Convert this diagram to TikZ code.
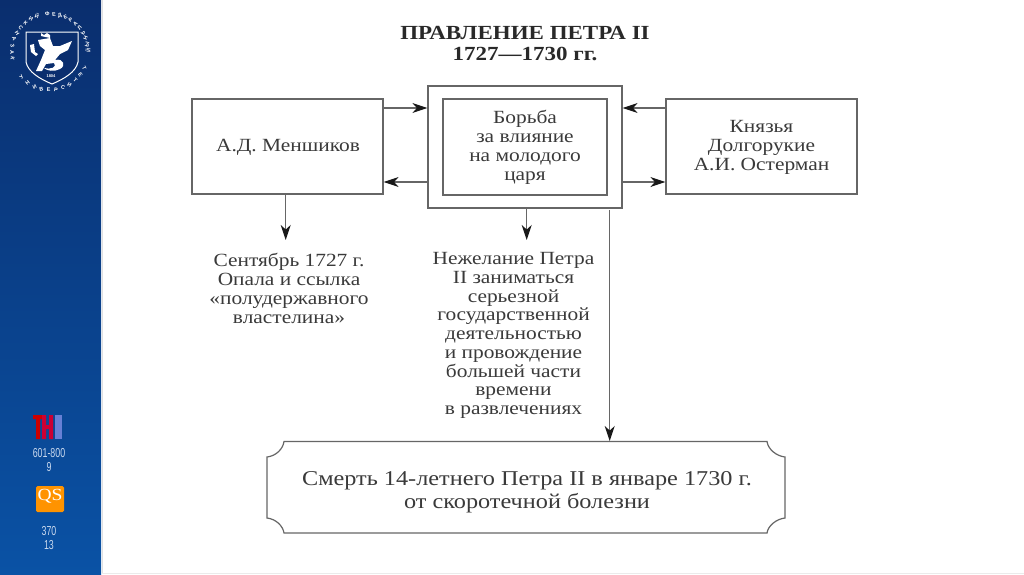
\documentclass[tikz,border=0pt]{standalone}
\usepackage{fontspec}
\setmainfont[FakeStretch=1.15]{Liberation Serif}
\newfontfamily\narrowf[FakeStretch=0.68]{Liberation Sans}
\newfontfamily\crestf{Liberation Sans}
\usetikzlibrary{arrows.meta}
\definecolor{sidetop}{HTML}{0A2E6E}
\definecolor{sidebot}{HTML}{0A52A5}
\definecolor{ink}{HTML}{3A3A3A}
\definecolor{linec}{HTML}{666666}
\definecolor{sidetxt}{HTML}{C8D8EE}
\tikzset{
 px/.style={x=1pt,y=-1pt},
 boxs/.style={draw=linec,line width=1.2pt,fill=white},
 lab/.style={text=ink,align=center,font=\fontsize{18.6}{18.9}\selectfont,inner sep=0pt},
 conn/.style={draw=linec,line width=1.2pt,-{Stealth[length=15pt,width=10pt,inset=4.5pt,color=black!90]}},
 side/.style={text=sidetxt,align=center,font=\fontsize{13}{14}\selectfont,inner sep=0pt},
 crest/.style={text=white,font=\crestf\fontsize{5.4}{6}\bfseries\selectfont,inner sep=0pt},
}
\begin{document}
\begin{tikzpicture}[px]
\useasboundingbox (0,0) rectangle (1024,574);
\fill[white] (0,0) rectangle (1024,574);
\fill[top color=sidetop,bottom color=sidebot] (0,0) rectangle (101,574);
\draw[black!12,line width=1pt] (102,0) -- (102,574);
\draw[black!8,line width=1pt] (102,573) -- (1024,573);
% crest
\path[draw=white,line width=1pt,fill=sidetop] (26,32) -- (78,32) -- (78,62) .. controls (76,72) and (64,79) .. (52,84) .. controls (40,79) and (28,72) .. (26,62) -- cycle;
\fill[white] (41,36) -- (41,33) -- (44,35) -- (47,33) -- (50,35) -- (50,38) -- cycle;
\fill[white] (30,45) -- (34,44) -- (35,52) -- (38,54) -- (36,56) -- (31,52) -- cycle;
\fill[white] (38,40) -- (50,38) -- (53,46) -- (60,46) -- (72,41) -- (68,50) -- (60,54) -- (55,60) .. controls (64,58) and (66,66) .. (60,69) .. controls (54,72) and (47,71) .. (44,68) .. controls (50,70) and (58,67) .. (54,63) -- (46,64) -- (42,71) -- (36,71) -- (41,60) -- (45,50) -- (40,46) -- cycle;
\node[crest,font=\crestf\fontsize{4}{4}\bfseries\selectfont] (yr) at (51,76) {1804};
\foreach \a/\c [count=\i] in {190/К,180/А,170/З,160/А,150/Н,140/С,130/К,120/И,110/Й}{
 \node[crest,rotate=90-\a] (ka\i) at ({50+38*cos(\a)},{52-38*sin(\a)}) {\c};}
\foreach \a/\c [count=\i] in {94/Ф,84/Е,75/Д,66/Е,57/Р,48/А,39/Л,30/Ь,21/Н,12/Ы,3/Й}{
 \node[crest,rotate=90-\a] (fe\i) at ({50+38*cos(\a)},{52-38*sin(\a)}) {\c};}
\foreach \a/\c [count=\i] in {222/У,234/Н,246/И,257/В,268/Е,279/Р,290/С,301/И,312/Т,323/Е,334/Т}{
 \node[crest,rotate=270-\a] (un\i) at ({50+38*cos(\a)},{52-38*sin(\a)}) {\c};}
% rankings
\fill[red!80!black] (33,415) rectangle (42,419) (36,415) rectangle (40,439);
\fill[purple!80!red] (42,415) rectangle (46,439) (49,415) rectangle (53,439) (42,425) rectangle (53,429);
\fill[blue!35!white,opacity=.6] (55,415) rectangle (62,439);
\node[side] (n1) at (49,453) {\narrowf 601-800};
\node[side] (n2) at (49,467) {\narrowf 9};
\fill[orange!85!yellow,rounded corners=1.5pt] (36,486) rectangle (64,512);
\node[text=white,font=\fontsize{17}{17}\selectfont,inner sep=0pt] (qs) at (50,496) {QS};
\node[side] (n3) at (49,531) {\narrowf 370};
\node[side] (n4) at (49,545) {\narrowf 13};
% title
\node[text=ink!70!black,align=center,font=\bfseries\fontsize{20}{21.5}\selectfont,inner sep=0pt] (title) at (525,43.5) {ПРАВЛЕНИЕ ПЕТРА II\\1727—1730 гг.};
% boxes
\node[boxs,minimum width=191pt,minimum height=95pt,inner sep=0pt] (men) at (287.5,146.5) {};
\node[boxs,minimum width=194pt,minimum height=122pt,inner sep=0pt] (outer) at (525,147) {};
\node[boxs,minimum width=164pt,minimum height=96pt,inner sep=0pt] (inner) at (525,147) {};
\node[boxs,minimum width=191pt,minimum height=95pt,inner sep=0pt] (dolg) at (761.5,146.5) {};
\node[lab] (lmen) at (288,147) {А.Д. Меншиков};
\node[lab] (linner) at (525,147.5) {Борьба\\за влияние\\на молодого\\царя};
\node[lab] (ldolg) at (761.5,147.5) {Князья\\Долгорукие\\А.И. Остерман};
% text
\node[lab] (tmen) at (289,288.5) {Сентябрь 1727 г.\\Опала и ссылка\\«полудержавного\\властелина»};
\node[lab,font=\fontsize{18.6}{18.7}\selectfont] (tnez) at (513.5,335.5) {Нежелание Петра\\II заниматься\\серьезной\\государственной\\деятельностью\\и провождение\\большей части\\времени\\в развлечениях};
% bottom box
\path[boxs] (284,441.5) -- (767,441.5) .. controls (768,449) and (776,456) .. (785,457) -- (785,518) .. controls (776,519) and (768,526) .. (767,533) -- (284,533) .. controls (283,526) and (276,519) .. (267,518) -- (267,457) .. controls (276,456) and (283,449) .. (284,441.5) -- cycle;
\node[lab,font=\fontsize{21.1}{22.5}\selectfont] (dt) at (527,492) {Смерть 14-летнего Петра II в январе 1730 г.\\от скоротечной болезни};
% connectors
\coordinate (m1) at (men.east |- 0,108);
\coordinate (o1) at (outer.west |- 0,108);
\coordinate (m2) at (men.east |- 0,182);
\coordinate (o2) at (outer.west |- 0,182);
\coordinate (d1) at (dolg.west |- 0,108);
\coordinate (p1) at (outer.east |- 0,108);
\coordinate (d2) at (dolg.west |- 0,182);
\coordinate (p2) at (outer.east |- 0,182);
\draw[conn] (m1) -- (o1);
\draw[conn] (o2) -- (m2);
\draw[conn] (d1) -- (p1);
\draw[conn] (p2) -- (d2);
\coordinate (mb) at (285.7,194);
\coordinate (me) at (285.7,240);
\draw[conn] (mb) -- (me);
\coordinate (ob) at (526.7,208);
\coordinate (oe) at (526.7,240);
\draw[conn] (ob) -- (oe);
\coordinate (fb) at (609.7,210);
\coordinate (fe) at (609.7,441);
\draw[conn] (fb) -- (fe);
\end{tikzpicture}
\end{document}
